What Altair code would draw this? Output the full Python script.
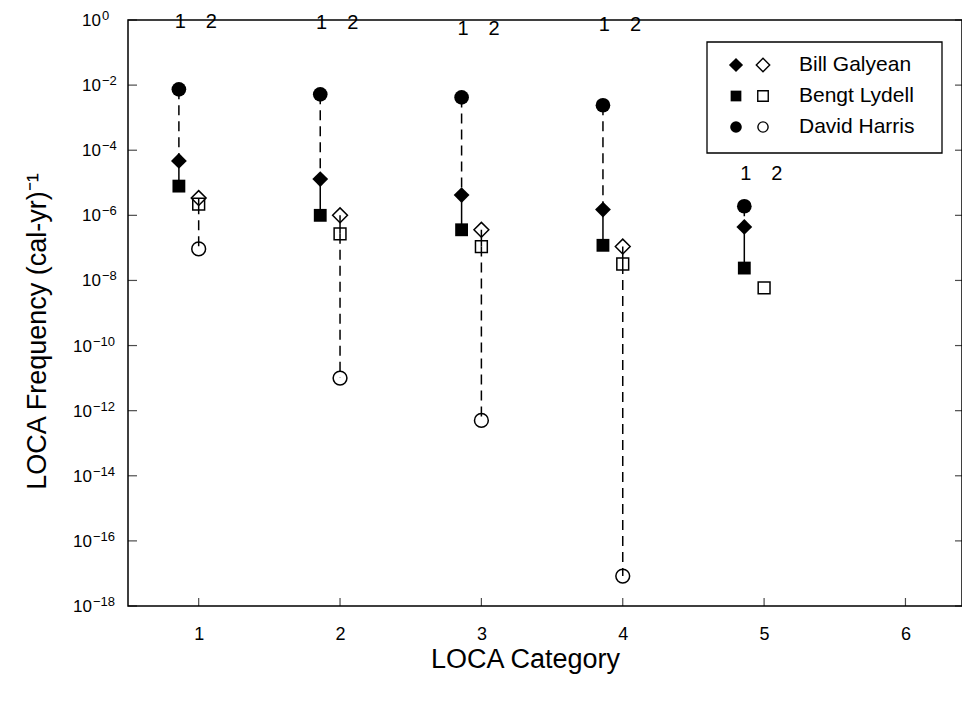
import altair as alt
import pandas as pd

# ---- data ----
categories = [1, 2, 3, 4, 5]
series_names = ["Bill Galyean", "Bengt Lydell", "David Harris"]
# column "1" (filled symbols)
galyean_1 = [4.7e-5, 1.3e-5, 4.2e-6, 1.5e-6, 4.4e-7]
lydell_1 = [7.9e-6, 1.0e-6, 3.6e-7, 1.2e-7, 2.4e-8]
harris_1 = [7.4e-3, 5.2e-3, 4.2e-3, 2.4e-3, 1.9e-6]
# column "2" (open symbols)
galyean_2 = [3.4e-6, 1.0e-6, 3.6e-7, 1.1e-7, None]
lydell_2 = [2.2e-6, 2.7e-7, 1.1e-7, 3.2e-8, 5.9e-9]
harris_2 = [9.3e-8, 1.0e-11, 5.0e-13, 8.3e-18, None]
# vertical position of the "1 2" column labels above each group
label_y = [0.85, 0.8, 0.52, 0.72, 1.9e-5]
x_ticks = [1, 2, 3, 4, 5, 6]
y_exponents = [0, -2, -4, -6, -8, -10, -12, -14, -16, -18]

FONT = "Liberation Sans"
W, H = 834, 586
COL_OFFSET = {"1": -0.14, "2": 0.0}

cols = {
    "1": {"Bill Galyean": galyean_1, "Bengt Lydell": lydell_1, "David Harris": harris_1},
    "2": {"Bill Galyean": galyean_2, "Bengt Lydell": lydell_2, "David Harris": harris_2},
}

rows = []
for col, sd in cols.items():
    for s, vals in sd.items():
        for c, v in zip(categories, vals):
            if v is not None:
                rows.append({"cat": c, "col": col, "series": s, "value": v,
                             "xpos": c + COL_OFFSET[col]})
pts = pd.DataFrame(rows)

# connecting segments
seg_rows = []
for col in cols:
    for c in categories:
        sub = pts[(pts.cat == c) & (pts.col == col)].sort_values("value", ascending=False)
        recs = sub.to_dict("records")
        for a, b in zip(recs[:-1], recs[1:]):
            pair = {a["series"], b["series"]}
            style = "solid" if pair == {"Bill Galyean", "Bengt Lydell"} else "dashed"
            seg_rows.append({"xpos": a["xpos"], "value": a["value"], "value2": b["value"],
                             "style": style})
segs = pd.DataFrame(seg_rows)

lab_rows = []
for c, ly in zip(categories, label_y):
    lab_rows.append({"xpos": c - 0.13, "value": ly, "txt": "1"})
    lab_rows.append({"xpos": c + 0.09, "value": ly, "txt": "2"})
labs = pd.DataFrame(lab_rows)

xscale = alt.Scale(domain=[0.5, 6.4], nice=False, zero=False)
yscale = alt.Scale(type="log", domain=[1e-18, 1], nice=False)

X = alt.X("xpos:Q", scale=xscale, title="LOCA Category",
          axis=alt.Axis(values=x_ticks, format="d", ticks=False, tickSize=0, domain=False,
                        grid=False, labelFontSize=18, labelPadding=19, labelFont=FONT,
                        labelColor="black", titleFont=FONT, titleFontSize=27,
                        titleFontWeight="normal", titleColor="black",
                        titleX=397, titleY=61, titleBaseline="alphabetic"))
Y = alt.Y("value:Q", scale=yscale, title="LOCA Frequency (cal-yr)⁻¹",
          axis=alt.Axis(labels=False, ticks=False, tickSize=0, domain=False, grid=False,
                        titleFont=FONT, titleFontSize=27,
                        titleFontWeight="normal", titleColor="black",
                        titleX=-83, titleY=311, titleBaseline="alphabetic",
                        titleAlign="center"))

rules = alt.Chart(segs).mark_rule(color="black", strokeWidth=1.5).encode(
    x=X, y=Y, y2="value2:Q",
    strokeDash=alt.StrokeDash("style:N", legend=None,
                              scale=alt.Scale(domain=["solid", "dashed"],
                                              range=[[1, 0], [10, 6]])))

shape_of = {"Bill Galyean": "diamond", "Bengt Lydell": "square", "David Harris": "circle"}
size_filled = {"Bill Galyean": 250, "Bengt Lydell": 165, "David Harris": 215}
size_open = {"Bill Galyean": 220, "Bengt Lydell": 140, "David Harris": 190}

point_layers = []
for s in series_names:
    point_layers.append(
        alt.Chart(pts[(pts.series == s) & (pts.col == "1")]).mark_point(
            shape=shape_of[s], filled=True, color="black", opacity=1, size=size_filled[s]
        ).encode(x=X, y=Y))
    point_layers.append(
        alt.Chart(pts[(pts.series == s) & (pts.col == "2")]).mark_point(
            shape=shape_of[s], filled=False, color="black", opacity=1, strokeWidth=1.5,
            size=size_open[s]
        ).encode(x=X, y=Y))

col_labels = alt.Chart(labs).mark_text(font=FONT, fontSize=20, color="black",
                                       baseline="middle").encode(x=X, y=Y, text="txt:N")

# y tick labels: "10" with a raised exponent
ylab = pd.DataFrame({"value": [10.0 ** e for e in y_exponents],
                     "base": ["10"] * len(y_exponents),
                     "expo": [("\u2212" if e < 0 else "") + str(abs(e)) for e in y_exponents],
                     "wide": [abs(e) >= 10 for e in y_exponents]})
ylabel_layers = []
for wide, bx in [(False, -27), (True, -36)]:
    sub = ylab[ylab.wide == wide]
    ylabel_layers.append(alt.Chart(sub).mark_text(
        font=FONT, fontSize=17, color="black", align="right", baseline="middle", dy=1
    ).encode(y=Y, x=alt.value(bx), text="base:N"))
    ylabel_layers.append(alt.Chart(sub).mark_text(
        font=FONT, fontSize=13, color="black", align="left", baseline="middle", dy=-4
    ).encode(y=Y, x=alt.value(bx + 1), text="expo:N"))

# inward tick marks
ytick_df = pd.DataFrame({"value": [10.0 ** e for e in y_exponents]})
xtick_df = pd.DataFrame({"xpos": x_ticks})
left_ticks = alt.Chart(ytick_df).mark_tick(orient="horizontal", color="black", size=9,
                                           thickness=1.2).encode(y=Y, x=alt.value(4.5))
right_ticks = alt.Chart(ytick_df).mark_tick(orient="horizontal", color="black", size=7,
                                            thickness=1.2).encode(y=Y, x=alt.value(W - 3.5))
bottom_ticks = alt.Chart(xtick_df).mark_tick(orient="vertical", color="black", size=8,
                                             thickness=1.2).encode(x=X, y=alt.value(H - 4))

# legend (drawn as a box with symbols and names)
leg_df = pd.DataFrame({"series": series_names, "row": [0, 1, 2]})
LX0, LX1, LY0, LY1 = 579, 814, 22, 133
ROW_Y = [45, 76, 107]
legend_box = alt.Chart(pd.DataFrame({"a": [0]})).mark_rect(
    fill="white", stroke="black", strokeWidth=1.3).encode(
    x=alt.value(LX0), x2=alt.value(LX1), y=alt.value(LY0), y2=alt.value(LY1))
leg_layers = [legend_box]
leg_fsize = {"Bill Galyean": 200, "Bengt Lydell": 115, "David Harris": 135}
leg_osize = {"Bill Galyean": 180, "Bengt Lydell": 110, "David Harris": 105}
for i, s in enumerate(series_names):
    one = leg_df[leg_df.series == s]
    leg_layers.append(alt.Chart(one).mark_point(
        shape=shape_of[s], filled=True, color="black", opacity=1, size=leg_fsize[s]
    ).encode(x=alt.value(608), y=alt.value(ROW_Y[i])))
    leg_layers.append(alt.Chart(one).mark_point(
        shape=shape_of[s], filled=False, color="black", opacity=1, strokeWidth=1.4,
        size=leg_osize[s]
    ).encode(x=alt.value(635), y=alt.value(ROW_Y[i])))
    leg_layers.append(alt.Chart(one).mark_text(
        font=FONT, fontSize=21, color="black", align="left", baseline="middle"
    ).encode(x=alt.value(671), y=alt.value(ROW_Y[i]), text="series:N"))

chart = alt.layer(
    rules, *point_layers, col_labels, *ylabel_layers, left_ticks, right_ticks,
    bottom_ticks, *leg_layers
).properties(
    width=W, height=H,
    autosize=alt.AutoSizeParams(type="none"),
    padding={"left": 120, "top": 12, "right": 0, "bottom": 80},
).configure_view(stroke="black", strokeWidth=1.5)

chart.save("out.html", embed_options={"renderer": "svg", "actions": False})
